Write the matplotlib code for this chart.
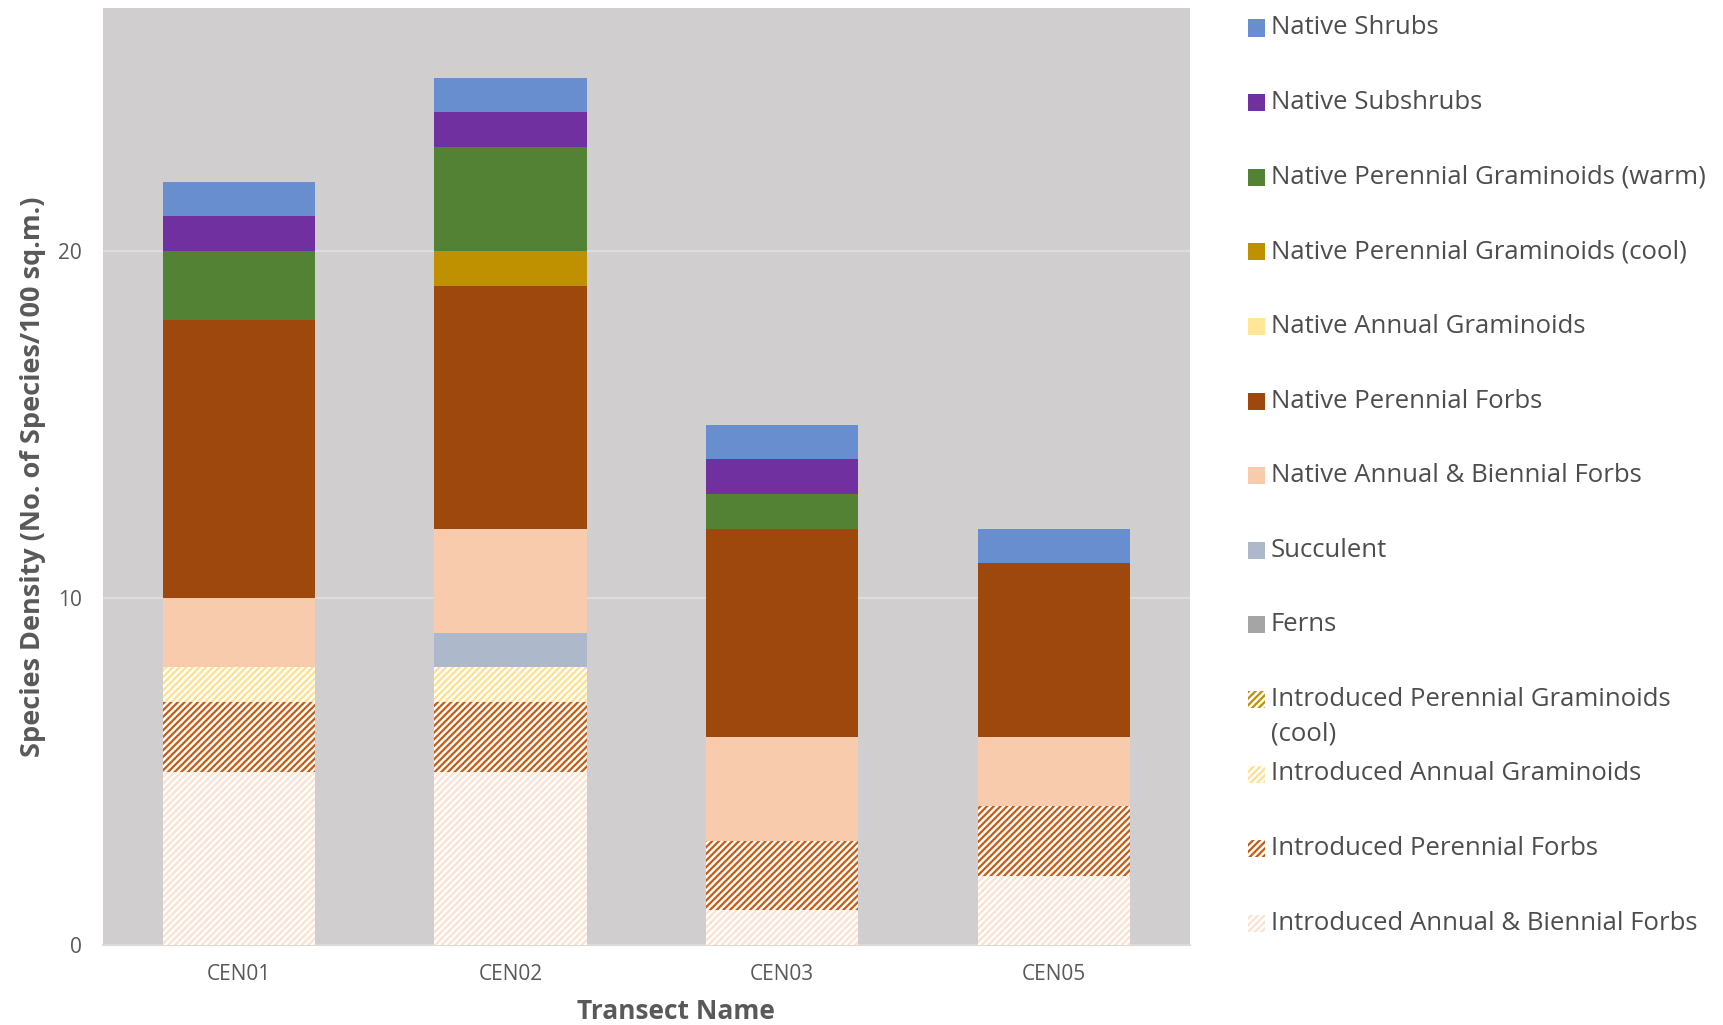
import numpy as np
import matplotlib
matplotlib.use('Agg')
import matplotlib.pyplot as plt
from matplotlib.patches import Rectangle

# ── Data (bottom of stack first) ─────────────────────────────
transects = ['CEN01', 'CEN02', 'CEN03', 'CEN05']

series_names = [
    'Introduced Annual & Biennial Forbs',
    'Introduced Perennial Forbs',
    'Introduced Annual Graminoids',
    'Introduced Perennial Graminoids (cool)',
    'Ferns',
    'Succulent',
    'Native Annual & Biennial Forbs',
    'Native Perennial Forbs',
    'Native Annual Graminoids',
    'Native Perennial Graminoids (cool)',
    'Native Perennial Graminoids (warm)',
    'Native Subshrubs',
    'Native Shrubs',
]

intro_annual_biennial_forbs = [5, 5, 1, 2]
intro_perennial_forbs = [2, 2, 2, 2]
intro_annual_graminoids = [1, 1, 0, 0]
intro_perennial_graminoids_cool = [0, 0, 0, 0]
ferns = [0, 0, 0, 0]
succulent = [0, 1, 0, 0]
native_annual_biennial_forbs = [2, 3, 3, 2]
native_perennial_forbs = [8, 7, 6, 5]
native_annual_graminoids = [0, 0, 0, 0]
native_perennial_graminoids_cool = [0, 1, 0, 0]
native_perennial_graminoids_warm = [2, 3, 1, 0]
native_subshrubs = [1, 1, 1, 0]
native_shrubs = [1, 1, 1, 1]

series_values = [
    intro_annual_biennial_forbs, intro_perennial_forbs, intro_annual_graminoids,
    intro_perennial_graminoids_cool, ferns, succulent, native_annual_biennial_forbs,
    native_perennial_forbs, native_annual_graminoids, native_perennial_graminoids_cool,
    native_perennial_graminoids_warm, native_subshrubs, native_shrubs,
]

series_colors = ['#FBE1CF', '#C55A11', '#FFE08A', '#BF9000', '#A5A5A5', '#ADB9CA',
                 '#F8CBAD', '#9E480E', '#FFE699', '#BF9000', '#548235', '#7030A0',
                 '#698ED0']
series_hatched = [True, True, True, True] + [False] * 9

# ── Style ────────────────────────────────────────────────────
plt.rcParams['font.family'] = ['Open Sans', 'DejaVu Sans']
plt.rcParams['hatch.linewidth'] = 1.6
TXT = '#595959'
LEG = '#4D4D4D'
BG = '#D0CECE'
HATCH = '/////'

fig = plt.figure(figsize=(17.24, 10.25), dpi=100)
ax = fig.add_axes([0.0597, 0.078, 0.6305, 0.914])
ax.set_facecolor(BG)

x = np.arange(len(transects))
bottom = np.zeros(len(transects))
for name, vals, color, hatched in zip(series_names, series_values, series_colors, series_hatched):
    vals = np.array(vals, dtype=float)
    if hatched:
        ax.bar(x, vals, 0.56, bottom=bottom, facecolor='white', edgecolor=color,
               hatch=HATCH, linewidth=0, zorder=3)
    else:
        ax.bar(x, vals, 0.56, bottom=bottom, color=color, linewidth=0, zorder=3)
    bottom += vals

ax.set_xlim(-0.5, 3.5)
ax.set_ylim(0, 27)
ax.set_yticks([0, 10, 20])
ax.set_xticks(x)
ax.set_xticklabels(transects)
ax.grid(axis='y', color='#DEDDDD', linewidth=1.5, zorder=1)
ax.set_axisbelow(True)
for s in ['top', 'right', 'left']:
    ax.spines[s].set_visible(False)
ax.spines['bottom'].set_color('#DADADA')
ax.spines['bottom'].set_linewidth(1.5)
ax.tick_params(axis='both', length=0, labelsize=15, colors=TXT)
ax.tick_params(axis='x', pad=14)
ax.tick_params(axis='y', pad=15)

ax.set_xlabel('Transect Name', fontsize=19, fontweight='bold', color=TXT)
ax.xaxis.set_label_coords(0.527, -0.056)
ax.set_ylabel('Species Density (No. of Species/100 sq.m.)', fontsize=19.5,
              fontweight='bold', color=TXT)
ax.yaxis.set_label_coords(-0.052, 0.5)

# ── Legend (drawn by hand to keep uniform row spacing) ───────
W, H = 1724.0, 1025.0
legend_order = list(range(len(series_names)))[::-1]
row_y = 28.0
row_step = 74.6
for k, i in enumerate(legend_order):
    yc = row_y + k * row_step
    sq = 17.0
    rect = Rectangle((1248 / W, 1 - (yc + sq / 2) / H), sq / W, sq / H,
                     transform=fig.transFigure, figure=fig, linewidth=0,
                     facecolor='white' if series_hatched[i] else series_colors[i],
                     edgecolor=series_colors[i],
                     hatch=HATCH if series_hatched[i] else None)
    fig.patches.append(rect)
    label = series_names[i]
    if label == 'Introduced Perennial Graminoids (cool)':
        fig.text(1271 / W, 1 - yc / H, 'Introduced Perennial Graminoids', fontsize=18.5,
                 color=LEG, va='center', ha='left')
        fig.text(1271 / W, 1 - (yc + 35) / H, '(cool)', fontsize=18.5,
                 color=LEG, va='center', ha='left')
    else:
        fig.text(1271 / W, 1 - yc / H, label, fontsize=18.5, color=LEG,
                 va='center', ha='left')

fig.savefig('out.png', dpi=100, facecolor='white')
